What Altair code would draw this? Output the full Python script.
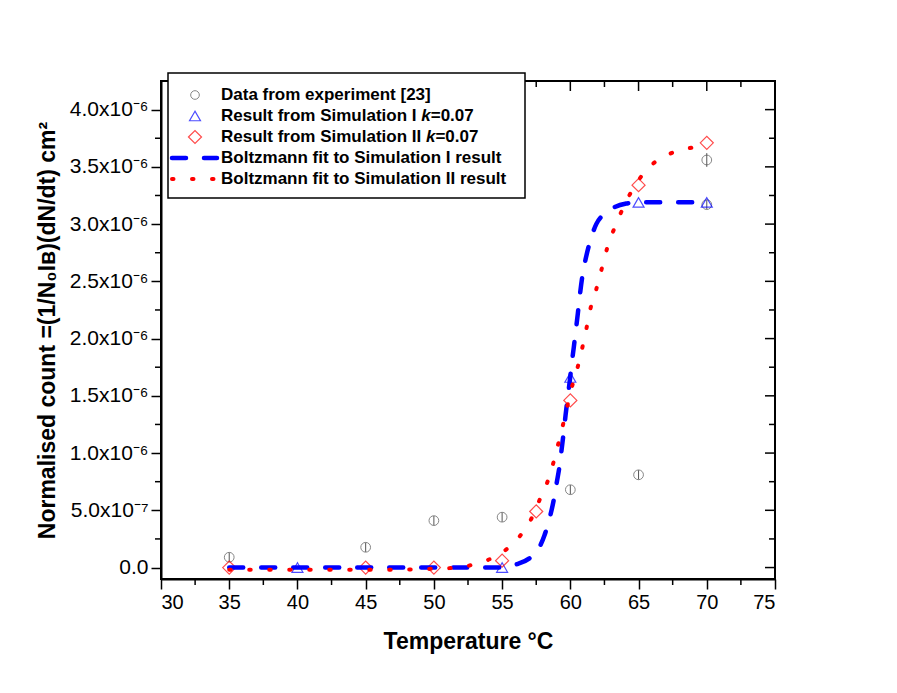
import altair as alt
import pandas as pd

# ---- data (y values in units of 1e-6) ----
exp_x = [35, 45, 50, 55, 60, 65, 70, 70]
exp_y = [0.09, 0.177, 0.41, 0.44, 0.68, 0.81, 3.56, 3.17]
exp_err = [0.04, 0.04, 0.04, 0.04, 0.04, 0.04, 0.06, 0.04]

sim1_x = [40, 55, 60, 65, 70]
sim1_y = [0.0, 0.0, 1.66, 3.19, 3.19]

sim2_x = [35, 45, 50, 55, 57.5, 60, 65, 70]
sim2_y = [0.0, 0.0, 0.0, 0.06, 0.49, 1.46, 3.34, 3.71]

fit1_x = [35, 40, 45, 50, 55, 56.1, 57.0, 57.6, 58.1, 58.5, 58.75, 59.0, 59.2, 59.35, 59.5,
          59.65, 59.8, 59.95, 60.1, 60.25, 60.4, 60.55, 60.7, 60.9, 61.15, 61.5, 61.9,
          62.5, 63.1, 64.1, 65, 70]
fit1_y = [0.0, 0.0, 0.0, 0.0, 0.0, 0.03, 0.08, 0.15, 0.28, 0.44, 0.57, 0.74, 0.88, 1.02, 1.17,
          1.33, 1.48, 1.62, 1.78, 1.92, 2.07, 2.22, 2.38, 2.56, 2.71, 2.87, 3.0,
          3.09, 3.14, 3.18, 3.19, 3.19]

fit2_x = [35, 40, 45, 48, 50, 51.7, 53.3, 54.7, 56.2, 57.2, 57.85, 58.45, 58.9, 59.3, 59.65,
          60.05, 60.45, 60.8, 61.15, 61.45, 61.9, 62.3, 62.7, 63.25, 63.9, 64.7, 65.9,
          67.4, 69.0, 70]
fit2_y = [-0.02, -0.02, -0.02, -0.018, -0.01, 0.0, 0.04, 0.11, 0.26, 0.44, 0.62, 0.79, 0.98, 1.17, 1.34,
          1.55, 1.71, 1.88, 2.07, 2.25, 2.43, 2.61, 2.79, 2.97, 3.15, 3.33, 3.51,
          3.62, 3.67, 3.69]

x_major = [30, 35, 40, 45, 50, 55, 60, 65, 70, 75]
x_minor = [32.5, 37.5, 42.5, 47.5, 52.5, 57.5, 62.5, 67.5, 72.5]
y_major = [0.0, 0.5, 1.0, 1.5, 2.0, 2.5, 3.0, 3.5, 4.0]
y_minor = [0.25, 0.75, 1.25, 1.75, 2.25, 2.75, 3.25, 3.75]
y_labels = ["0.0", "5.0x10\u207b\u2077", "1.0x10\u207b\u2076", "1.5x10\u207b\u2076",
            "2.0x10\u207b\u2076", "2.5x10\u207b\u2076", "3.0x10\u207b\u2076",
            "3.5x10\u207b\u2076", "4.0x10\u207b\u2076"]

legend_labels = ["Data from experiment [23]", "Result from Simulation I ",
                 "Result from Simulation II ", "Boltzmann fit to Simulation I result",
                 "Boltzmann fit to Simulation II result"]
legend_italic = ["", "k", "k", "", ""]
legend_tail = ["", "=0.07", "=0.07", "", ""]

FONT = "Liberation Sans"
W, H = 614, 498
GRAY = "#555555"
BLUE = "#0000ff"
RED = "#ff0000"

xs = alt.Scale(domain=[30, 75], nice=False, zero=False)
ys = alt.Scale(domain=[-0.1, 4.25], nice=False, zero=False)

exp_df = pd.DataFrame({"x": exp_x, "y": exp_y, "e": exp_err})
exp_df["lo"] = exp_df["y"] - exp_df["e"]
exp_df["hi"] = exp_df["y"] + exp_df["e"]
s1_df = pd.DataFrame({"x": sim1_x, "y": sim1_y})
s2_df = pd.DataFrame({"x": sim2_x, "y": sim2_y})
f1_df = pd.DataFrame({"x": fit1_x, "y": fit1_y})
f2_df = pd.DataFrame({"x": fit2_x, "y": fit2_y})

label_expr = "[" + ",".join("'%s'" % l for l in y_labels) + "][round(datum.value*2)]"

X = alt.X("x:Q", scale=xs, axis=alt.Axis(values=x_major, format="d", title="Temperature \u00b0C",
                                          titlePadding=18))
Y = alt.Y("y:Q", scale=ys, axis=alt.Axis(values=y_major, labelExpr=label_expr,
                                          title="Normalised count =(1/N\u2080I\u0299)(dN/dt) cm\u00b2",
                                          titlePadding=10))

err = alt.Chart(exp_df).mark_rule(color=GRAY, strokeWidth=1).encode(
    x=alt.X("x:Q", scale=xs), y=alt.Y("lo:Q", scale=ys), y2="hi:Q")
circles = alt.Chart(exp_df).mark_point(shape="circle", filled=False, color=GRAY, size=95,
                                       strokeWidth=1).encode(x=X, y=Y)
tris = alt.Chart(s1_df).mark_point(shape="triangle-up", filled=False, color=BLUE, size=120,
                                   strokeWidth=1.2).encode(x=X, y=Y)
dias = alt.Chart(s2_df).mark_point(shape="diamond", filled=False, color=RED, size=170,
                                   strokeWidth=1.2).encode(x=X, y=Y)
line1 = alt.Chart(f1_df).mark_line(color=BLUE, strokeWidth=4.5, strokeDash=[14, 18],
                                   strokeCap="round", interpolate="monotone").encode(x=X, y=Y)
line2 = alt.Chart(f2_df).mark_line(color=RED, strokeWidth=4, strokeDash=[1.5, 18.5],
                                   strokeCap="round", interpolate="monotone").encode(x=X, y=Y)

# frame ticks (inward on top/right, minor outward on bottom/left)
xall = pd.DataFrame({"x": x_major + x_minor, "len": [10] * len(x_major) + [6] * len(x_minor)})
yall = pd.DataFrame({"y": y_major + y_minor, "len": [10] * len(y_major) + [6] * len(y_minor)})
xmin_df = pd.DataFrame({"x": x_minor})
ymin_df = pd.DataFrame({"y": y_minor})

top_major = alt.Chart(pd.DataFrame({"x": x_major})).mark_rule(color="black", strokeWidth=1.5).encode(
    x=alt.X("x:Q", scale=xs), y=alt.value(0), y2=alt.value(10))
top_minor = alt.Chart(xmin_df).mark_rule(color="black", strokeWidth=1.5).encode(
    x=alt.X("x:Q", scale=xs), y=alt.value(0), y2=alt.value(6))
right_major = alt.Chart(pd.DataFrame({"y": y_major})).mark_rule(color="black", strokeWidth=1.5).encode(
    y=alt.Y("y:Q", scale=ys), x=alt.value(W), x2=alt.value(W - 10))
right_minor = alt.Chart(ymin_df).mark_rule(color="black", strokeWidth=1.5).encode(
    y=alt.Y("y:Q", scale=ys), x=alt.value(W), x2=alt.value(W - 6))
bot_minor = alt.Chart(xmin_df).mark_rule(color="black", strokeWidth=1.5).encode(
    x=alt.X("x:Q", scale=xs), y=alt.value(H), y2=alt.value(H + 6))
left_minor = alt.Chart(ymin_df).mark_rule(color="black", strokeWidth=1.5).encode(
    y=alt.Y("y:Q", scale=ys), x=alt.value(0), x2=alt.value(-6))

# legend (manual)
one = pd.DataFrame({"a": [0]})
leg = [alt.Chart(one).mark_rect(fill="white", stroke="black", strokeWidth=1.5).encode(
    x=alt.value(7), x2=alt.value(364), y=alt.value(-8), y2=alt.value(117))]
rows_y = [14, 35, 56, 77, 98]
sym_x = 34
leg.append(alt.Chart(one).mark_point(shape="circle", filled=False, color=GRAY, size=75,
                                     strokeWidth=1).encode(x=alt.value(sym_x), y=alt.value(rows_y[0])))
leg.append(alt.Chart(one).mark_point(shape="triangle-up", filled=False, color=BLUE, size=120,
                                     strokeWidth=1.2).encode(x=alt.value(sym_x), y=alt.value(rows_y[1])))
leg.append(alt.Chart(one).mark_point(shape="diamond", filled=False, color=RED, size=170,
                                     strokeWidth=1.2).encode(x=alt.value(sym_x), y=alt.value(rows_y[2])))
leg.append(alt.Chart(one).mark_rule(color=BLUE, strokeWidth=4.5, strokeDash=[14, 18],
                                    strokeCap="round").encode(
    x=alt.value(11), x2=alt.value(56), y=alt.value(rows_y[3])))
leg.append(alt.Chart(one).mark_rule(color=RED, strokeWidth=4, strokeDash=[1.5, 18.5],
                                    strokeCap="round").encode(
    x=alt.value(11), x2=alt.value(56), y=alt.value(rows_y[4])))

TXT_X = 60
FS = 17
base_w = {1: 11.78, 2: 12.058}
for i, lab in enumerate(legend_labels):
    leg.append(alt.Chart(one).mark_text(text=lab, align="left", baseline="middle", font=FONT,
                                        fontSize=FS, fontWeight="bold", color="black").encode(
        x=alt.value(TXT_X), y=alt.value(rows_y[i])))
    if legend_italic[i]:
        kx = TXT_X + base_w[i] * FS
        leg.append(alt.Chart(one).mark_text(text=legend_italic[i], align="left", baseline="middle",
                                            font=FONT, fontSize=FS, fontWeight="bold",
                                            fontStyle="italic", color="black").encode(
            x=alt.value(kx), y=alt.value(rows_y[i])))
        leg.append(alt.Chart(one).mark_text(text=legend_tail[i], align="left", baseline="middle",
                                            font=FONT, fontSize=FS, fontWeight="bold",
                                            color="black").encode(
            x=alt.value(kx + 0.556 * FS), y=alt.value(rows_y[i])))

chart = alt.layer(
    circles, err, tris, dias, line1, line2,
    top_major, top_minor, right_major, right_minor, bot_minor, left_minor,
    *leg
).properties(
    width=W, height=H,
    autosize=alt.AutoSizeParams(type="none"),
    padding={"left": 153, "top": 73, "right": 100, "bottom": 100},
    background="white",
).configure_view(
    stroke="black", strokeWidth=2
).configure_axis(
    grid=False, domainColor="black", domainWidth=2, tickColor="black", tickWidth=1.5,
    tickSize=10, labelFont=FONT, labelFontSize=20, labelColor="black", labelPadding=3,
    titleFont=FONT, titleFontSize=23, titleFontWeight="bold", titleColor="black"
).configure_axisY(
    labelFontSize=21
)

chart.save("out.html", embed_options={"renderer": "svg", "actions": False})
